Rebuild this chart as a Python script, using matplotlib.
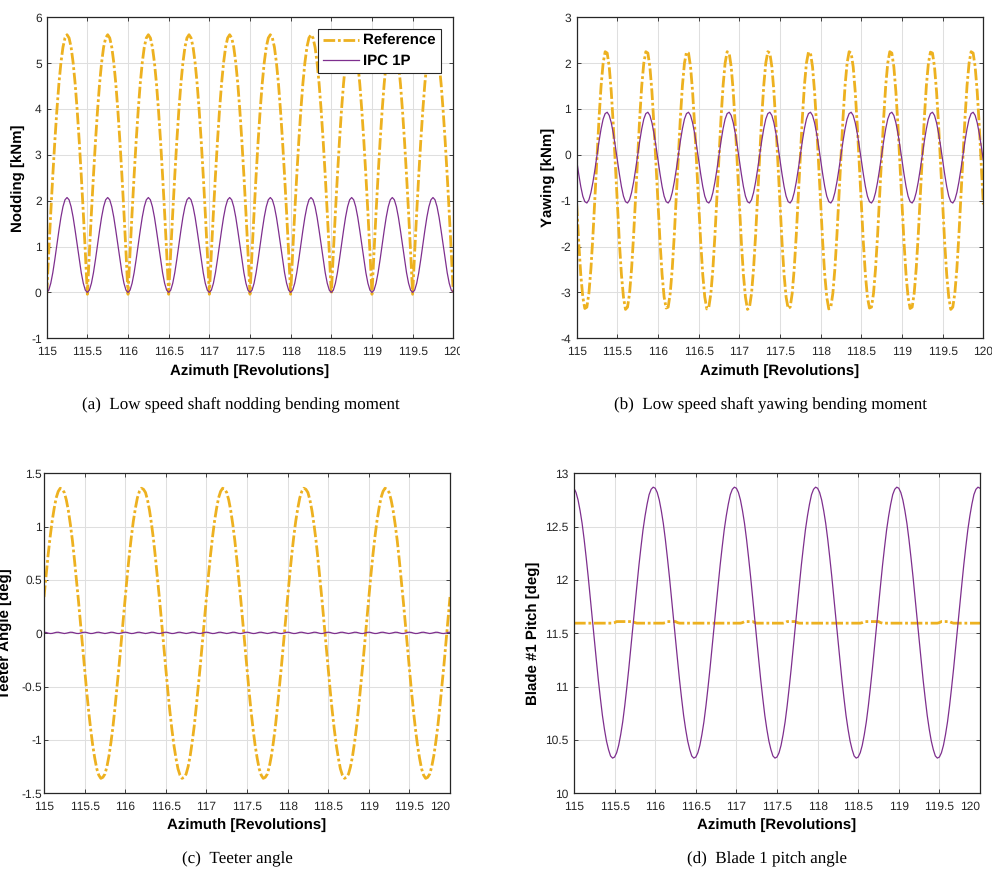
import numpy as np
import matplotlib
matplotlib.use("Agg")
import matplotlib.pyplot as plt
from matplotlib.transforms import Bbox, TransformedBbox

plt.rcParams["font.family"] = ["Liberation Sans", "DejaVu Sans"]
plt.rcParams["axes.unicode_minus"] = False
plt.rcParams["text.hinting"] = "no_hinting"
plt.rcParams["text.hinting_factor"] = 1

# Rotor azimuth, sampled every 0.025 revolution from 115 to 120
azimuth = np.linspace(115.0, 120.0, 201)

# (a) Low speed shaft nodding moment [kNm]
nodding_ref = [
    -0.04, 0.88, 1.74, 2.55, 3.30, 3.97, 4.55, 5.01, 5.35, 5.55, 5.62, 5.55, 5.35, 5.01, 4.55, 3.97, 3.30, 2.55, 1.74, 0.88,
    -0.04, 0.88, 1.74, 2.55, 3.30, 3.97, 4.55, 5.01, 5.35, 5.55, 5.62, 5.55, 5.35, 5.01, 4.55, 3.97, 3.30, 2.55, 1.74, 0.88,
    -0.04, 0.88, 1.74, 2.55, 3.30, 3.97, 4.55, 5.01, 5.35, 5.55, 5.62, 5.55, 5.35, 5.01, 4.55, 3.97, 3.30, 2.55, 1.74, 0.88,
    -0.04, 0.88, 1.74, 2.55, 3.30, 3.97, 4.55, 5.01, 5.35, 5.55, 5.62, 5.55, 5.35, 5.01, 4.55, 3.97, 3.30, 2.55, 1.74, 0.88,
    -0.04, 0.88, 1.74, 2.55, 3.30, 3.97, 4.55, 5.01, 5.35, 5.55, 5.62, 5.55, 5.35, 5.01, 4.55, 3.97, 3.30, 2.55, 1.74, 0.88,
    -0.04, 0.88, 1.74, 2.55, 3.30, 3.97, 4.55, 5.01, 5.35, 5.55, 5.62, 5.55, 5.35, 5.01, 4.55, 3.97, 3.30, 2.55, 1.74, 0.88,
    -0.04, 0.88, 1.74, 2.55, 3.30, 3.97, 4.55, 5.01, 5.35, 5.55, 5.62, 5.55, 5.35, 5.01, 4.55, 3.97, 3.30, 2.55, 1.74, 0.88,
    -0.04, 0.88, 1.74, 2.55, 3.30, 3.97, 4.55, 5.01, 5.35, 5.55, 5.62, 5.55, 5.35, 5.01, 4.55, 3.97, 3.30, 2.55, 1.74, 0.88,
    -0.04, 0.88, 1.74, 2.55, 3.30, 3.97, 4.55, 5.01, 5.35, 5.55, 5.62, 5.55, 5.35, 5.01, 4.55, 3.97, 3.30, 2.55, 1.74, 0.88,
    -0.04, 0.88, 1.74, 2.55, 3.30, 3.97, 4.55, 5.01, 5.35, 5.55, 5.62, 5.55, 5.35, 5.01, 4.55, 3.97, 3.30, 2.55, 1.74, 0.88,
    -0.04,
]
nodding_ipc = [
    0.00, 0.05, 0.20, 0.43, 0.72, 1.04, 1.35, 1.64, 1.87, 2.02, 2.07, 2.02, 1.87, 1.64, 1.35, 1.04, 0.72, 0.43, 0.20, 0.05,
    0.00, 0.05, 0.20, 0.43, 0.72, 1.04, 1.35, 1.64, 1.87, 2.02, 2.07, 2.02, 1.87, 1.64, 1.35, 1.04, 0.72, 0.43, 0.20, 0.05,
    0.00, 0.05, 0.20, 0.43, 0.72, 1.04, 1.35, 1.64, 1.87, 2.02, 2.07, 2.02, 1.87, 1.64, 1.35, 1.04, 0.72, 0.43, 0.20, 0.05,
    0.00, 0.05, 0.20, 0.43, 0.72, 1.04, 1.35, 1.64, 1.87, 2.02, 2.07, 2.02, 1.87, 1.64, 1.35, 1.04, 0.72, 0.43, 0.20, 0.05,
    0.00, 0.05, 0.20, 0.43, 0.72, 1.04, 1.35, 1.64, 1.87, 2.02, 2.07, 2.02, 1.87, 1.64, 1.35, 1.04, 0.72, 0.43, 0.20, 0.05,
    0.00, 0.05, 0.20, 0.43, 0.72, 1.04, 1.35, 1.64, 1.87, 2.02, 2.07, 2.02, 1.87, 1.64, 1.35, 1.04, 0.72, 0.43, 0.20, 0.05,
    0.00, 0.05, 0.20, 0.43, 0.72, 1.04, 1.35, 1.64, 1.87, 2.02, 2.07, 2.02, 1.87, 1.64, 1.35, 1.04, 0.72, 0.43, 0.20, 0.05,
    0.00, 0.05, 0.20, 0.43, 0.72, 1.04, 1.35, 1.64, 1.87, 2.02, 2.07, 2.02, 1.87, 1.64, 1.35, 1.04, 0.72, 0.43, 0.20, 0.05,
    0.00, 0.05, 0.20, 0.43, 0.72, 1.04, 1.35, 1.64, 1.87, 2.02, 2.07, 2.02, 1.87, 1.64, 1.35, 1.04, 0.72, 0.43, 0.20, 0.05,
    0.00, 0.05, 0.20, 0.43, 0.72, 1.04, 1.35, 1.64, 1.87, 2.02, 2.07, 2.02, 1.87, 1.64, 1.35, 1.04, 0.72, 0.43, 0.20, 0.05,
    0.00,
]

# (b) Low speed shaft yawing moment [kNm]
yawing_ref = [
    -1.08, -1.91, -2.61, -3.10, -3.35, -3.32, -3.02, -2.48, -1.75, -0.90, -0.02, 0.81, 1.51, 2.00, 2.25, 2.22, 1.92, 1.38, 0.65, -0.20,
    -1.08, -1.91, -2.61, -3.10, -3.37, -3.32, -3.02, -2.48, -1.75, -0.90, -0.02, 0.81, 1.51, 2.00, 2.25, 2.22, 1.92, 1.38, 0.65, -0.20,
    -1.08, -1.91, -2.61, -3.10, -3.34, -3.32, -3.02, -2.48, -1.75, -0.90, -0.02, 0.81, 1.51, 2.00, 2.24, 2.22, 1.92, 1.38, 0.65, -0.20,
    -1.08, -1.91, -2.61, -3.10, -3.36, -3.32, -3.02, -2.48, -1.75, -0.90, -0.02, 0.81, 1.51, 2.00, 2.25, 2.22, 1.92, 1.38, 0.65, -0.20,
    -1.08, -1.91, -2.61, -3.10, -3.37, -3.32, -3.02, -2.48, -1.75, -0.90, -0.02, 0.81, 1.51, 2.00, 2.25, 2.22, 1.92, 1.38, 0.65, -0.20,
    -1.08, -1.91, -2.61, -3.10, -3.35, -3.32, -3.02, -2.48, -1.75, -0.90, -0.02, 0.81, 1.51, 2.00, 2.24, 2.22, 1.92, 1.38, 0.65, -0.20,
    -1.08, -1.91, -2.61, -3.10, -3.36, -3.32, -3.02, -2.48, -1.75, -0.90, -0.02, 0.81, 1.51, 2.00, 2.25, 2.22, 1.92, 1.38, 0.65, -0.20,
    -1.08, -1.91, -2.61, -3.10, -3.34, -3.32, -3.02, -2.48, -1.75, -0.90, -0.02, 0.81, 1.51, 2.00, 2.25, 2.22, 1.92, 1.38, 0.65, -0.20,
    -1.08, -1.91, -2.61, -3.10, -3.35, -3.32, -3.02, -2.48, -1.75, -0.90, -0.02, 0.81, 1.51, 2.00, 2.24, 2.22, 1.92, 1.38, 0.65, -0.20,
    -1.08, -1.91, -2.61, -3.10, -3.37, -3.32, -3.02, -2.48, -1.75, -0.90, -0.02, 0.81, 1.51, 2.00, 2.25, 2.22, 1.92, 1.38, 0.65, -0.20,
    -1.08,
]
yawing_ipc = [
    -0.12, -0.42, -0.69, -0.90, -1.02, -1.05, -0.98, -0.82, -0.59, -0.31, 0.00, 0.30, 0.57, 0.78, 0.90, 0.93, 0.86, 0.70, 0.47, 0.19,
    -0.12, -0.42, -0.69, -0.90, -1.02, -1.05, -0.98, -0.82, -0.59, -0.31, 0.00, 0.30, 0.57, 0.78, 0.90, 0.93, 0.86, 0.70, 0.47, 0.19,
    -0.12, -0.42, -0.69, -0.90, -1.02, -1.05, -0.98, -0.82, -0.59, -0.31, 0.00, 0.30, 0.57, 0.78, 0.90, 0.93, 0.86, 0.70, 0.47, 0.19,
    -0.12, -0.42, -0.69, -0.90, -1.02, -1.05, -0.98, -0.82, -0.59, -0.31, 0.00, 0.30, 0.57, 0.78, 0.90, 0.93, 0.86, 0.70, 0.47, 0.19,
    -0.12, -0.42, -0.69, -0.90, -1.02, -1.05, -0.98, -0.82, -0.59, -0.31, 0.00, 0.30, 0.57, 0.78, 0.90, 0.93, 0.86, 0.70, 0.47, 0.19,
    -0.12, -0.42, -0.69, -0.90, -1.02, -1.05, -0.98, -0.82, -0.59, -0.31, 0.00, 0.30, 0.57, 0.78, 0.90, 0.93, 0.86, 0.70, 0.47, 0.19,
    -0.12, -0.42, -0.69, -0.90, -1.02, -1.05, -0.98, -0.82, -0.59, -0.31, 0.00, 0.30, 0.57, 0.78, 0.90, 0.93, 0.86, 0.70, 0.47, 0.19,
    -0.12, -0.42, -0.69, -0.90, -1.02, -1.05, -0.98, -0.82, -0.59, -0.31, 0.00, 0.30, 0.57, 0.78, 0.90, 0.93, 0.86, 0.70, 0.47, 0.19,
    -0.12, -0.42, -0.69, -0.90, -1.02, -1.05, -0.98, -0.82, -0.59, -0.31, 0.00, 0.30, 0.57, 0.78, 0.90, 0.93, 0.86, 0.70, 0.47, 0.19,
    -0.12, -0.42, -0.69, -0.90, -1.02, -1.05, -0.98, -0.82, -0.59, -0.31, 0.00, 0.30, 0.57, 0.78, 0.90, 0.93, 0.86, 0.70, 0.47, 0.19,
    -0.12,
]

# (c) Teeter angle [deg]
teeter_ref = [
    0.34, 0.54, 0.73, 0.90, 1.05, 1.17, 1.27, 1.33, 1.36, 1.35, 1.32, 1.25, 1.15, 1.02, 0.87, 0.69, 0.50, 0.30, 0.09, -0.13,
    -0.34, -0.54, -0.73, -0.90, -1.05, -1.17, -1.27, -1.33, -1.36, -1.35, -1.32, -1.25, -1.15, -1.02, -0.87, -0.69, -0.50, -0.30, -0.09, 0.13,
    0.34, 0.54, 0.73, 0.90, 1.05, 1.17, 1.27, 1.33, 1.36, 1.35, 1.32, 1.25, 1.15, 1.02, 0.87, 0.69, 0.50, 0.30, 0.09, -0.13,
    -0.34, -0.54, -0.73, -0.90, -1.05, -1.17, -1.27, -1.33, -1.36, -1.35, -1.32, -1.25, -1.15, -1.02, -0.87, -0.69, -0.50, -0.30, -0.09, 0.13,
    0.34, 0.54, 0.73, 0.90, 1.05, 1.17, 1.27, 1.33, 1.36, 1.35, 1.32, 1.25, 1.15, 1.02, 0.87, 0.69, 0.50, 0.30, 0.09, -0.13,
    -0.34, -0.54, -0.73, -0.90, -1.05, -1.17, -1.27, -1.33, -1.36, -1.35, -1.32, -1.25, -1.15, -1.02, -0.87, -0.69, -0.50, -0.30, -0.09, 0.13,
    0.34, 0.54, 0.73, 0.90, 1.05, 1.17, 1.27, 1.33, 1.36, 1.35, 1.32, 1.25, 1.15, 1.02, 0.87, 0.69, 0.50, 0.30, 0.09, -0.13,
    -0.34, -0.54, -0.73, -0.90, -1.05, -1.17, -1.27, -1.33, -1.36, -1.35, -1.32, -1.25, -1.15, -1.02, -0.87, -0.69, -0.50, -0.30, -0.09, 0.13,
    0.34, 0.54, 0.73, 0.90, 1.05, 1.17, 1.27, 1.33, 1.36, 1.35, 1.32, 1.25, 1.15, 1.02, 0.87, 0.69, 0.50, 0.30, 0.09, -0.13,
    -0.34, -0.54, -0.73, -0.90, -1.05, -1.17, -1.27, -1.33, -1.36, -1.35, -1.32, -1.25, -1.15, -1.02, -0.87, -0.69, -0.50, -0.30, -0.09, 0.13,
    0.34,
]
teeter_ipc = [
    0.010, 0.008, 0.002, -0.002, -0.001, 0.004, 0.009, 0.010, 0.006, 0.001, -0.002, 0.001, 0.006, 0.010, 0.009, 0.004, -0.001, -0.002, 0.002, 0.008,
    0.010, 0.008, 0.002, -0.002, -0.001, 0.004, 0.009, 0.010, 0.006, 0.001, -0.002, 0.001, 0.006, 0.010, 0.009, 0.004, -0.001, -0.002, 0.002, 0.008,
    0.010, 0.008, 0.002, -0.002, -0.001, 0.004, 0.009, 0.010, 0.006, 0.001, -0.002, 0.001, 0.006, 0.010, 0.009, 0.004, -0.001, -0.002, 0.002, 0.008,
    0.010, 0.008, 0.002, -0.002, -0.001, 0.004, 0.009, 0.010, 0.006, 0.001, -0.002, 0.001, 0.006, 0.010, 0.009, 0.004, -0.001, -0.002, 0.002, 0.008,
    0.010, 0.008, 0.002, -0.002, -0.001, 0.004, 0.009, 0.010, 0.006, 0.001, -0.002, 0.001, 0.006, 0.010, 0.009, 0.004, -0.001, -0.002, 0.002, 0.008,
    0.010, 0.008, 0.002, -0.002, -0.001, 0.004, 0.009, 0.010, 0.006, 0.001, -0.002, 0.001, 0.006, 0.010, 0.009, 0.004, -0.001, -0.002, 0.002, 0.008,
    0.010, 0.008, 0.002, -0.002, -0.001, 0.004, 0.009, 0.010, 0.006, 0.001, -0.002, 0.001, 0.006, 0.010, 0.009, 0.004, -0.001, -0.002, 0.002, 0.008,
    0.010, 0.008, 0.002, -0.002, -0.001, 0.004, 0.009, 0.010, 0.006, 0.001, -0.002, 0.001, 0.006, 0.010, 0.009, 0.004, -0.001, -0.002, 0.002, 0.008,
    0.010, 0.008, 0.002, -0.002, -0.001, 0.004, 0.009, 0.010, 0.006, 0.001, -0.002, 0.001, 0.006, 0.010, 0.009, 0.004, -0.001, -0.002, 0.002, 0.008,
    0.010, 0.008, 0.002, -0.002, -0.001, 0.004, 0.009, 0.010, 0.006, 0.001, -0.002, 0.001, 0.006, 0.010, 0.009, 0.004, -0.001, -0.002, 0.002, 0.008,
    0.010,
]

# (d) Blade 1 pitch angle [deg]
pitch_ref = [
    11.595, 11.595, 11.595, 11.595, 11.595, 11.595, 11.595, 11.595, 11.595, 11.595, 11.595, 11.595, 11.595, 11.595, 11.595, 11.595, 11.595, 11.595, 11.595, 11.595,
    11.600, 11.610, 11.610, 11.610, 11.610, 11.610, 11.610, 11.610, 11.610, 11.610, 11.600, 11.595, 11.595, 11.595, 11.595, 11.595, 11.595, 11.595, 11.595, 11.595,
    11.595, 11.595, 11.595, 11.595, 11.595, 11.600, 11.610, 11.610, 11.610, 11.610, 11.610, 11.600, 11.595, 11.595, 11.595, 11.595, 11.595, 11.595, 11.595, 11.595,
    11.595, 11.595, 11.595, 11.595, 11.595, 11.595, 11.595, 11.595, 11.595, 11.595, 11.595, 11.595, 11.595, 11.595, 11.595, 11.595, 11.595, 11.595, 11.595, 11.595,
    11.595, 11.595, 11.595, 11.600, 11.610, 11.610, 11.610, 11.610, 11.610, 11.600, 11.595, 11.595, 11.595, 11.595, 11.595, 11.595, 11.595, 11.595, 11.595, 11.595,
    11.595, 11.595, 11.595, 11.595, 11.600, 11.610, 11.610, 11.610, 11.610, 11.610, 11.600, 11.595, 11.595, 11.595, 11.595, 11.595, 11.595, 11.595, 11.595, 11.595,
    11.595, 11.595, 11.595, 11.595, 11.595, 11.595, 11.595, 11.595, 11.595, 11.595, 11.595, 11.595, 11.595, 11.595, 11.595, 11.595, 11.595, 11.595, 11.595, 11.595,
    11.595, 11.595, 11.600, 11.610, 11.610, 11.610, 11.610, 11.610, 11.610, 11.610, 11.610, 11.600, 11.595, 11.595, 11.595, 11.595, 11.595, 11.595, 11.595, 11.595,
    11.595, 11.595, 11.595, 11.595, 11.595, 11.595, 11.595, 11.595, 11.595, 11.595, 11.595, 11.595, 11.595, 11.595, 11.595, 11.595, 11.595, 11.595, 11.595, 11.595,
    11.600, 11.610, 11.610, 11.610, 11.610, 11.610, 11.600, 11.595, 11.595, 11.595, 11.595, 11.595, 11.595, 11.595, 11.595, 11.595, 11.595, 11.595, 11.595, 11.595,
    11.595,
]
pitch_ipc = [
    12.86, 12.82, 12.75, 12.65, 12.53, 12.38, 12.21, 12.03, 11.84, 11.64, 11.44, 11.25, 11.06, 10.89, 10.73, 10.60, 10.49, 10.41, 10.35, 10.33,
    10.34, 10.38, 10.45, 10.55, 10.67, 10.82, 10.99, 11.17, 11.36, 11.56, 11.76, 11.95, 12.14, 12.31, 12.47, 12.60, 12.71, 12.80, 12.85, 12.87,
    12.86, 12.82, 12.75, 12.65, 12.53, 12.38, 12.21, 12.03, 11.84, 11.64, 11.44, 11.25, 11.06, 10.89, 10.73, 10.60, 10.49, 10.41, 10.35, 10.33,
    10.34, 10.38, 10.45, 10.55, 10.67, 10.82, 10.99, 11.17, 11.36, 11.56, 11.76, 11.95, 12.14, 12.31, 12.47, 12.60, 12.71, 12.80, 12.85, 12.87,
    12.86, 12.82, 12.75, 12.65, 12.53, 12.38, 12.21, 12.03, 11.84, 11.64, 11.44, 11.25, 11.06, 10.89, 10.73, 10.60, 10.49, 10.41, 10.35, 10.33,
    10.34, 10.38, 10.45, 10.55, 10.67, 10.82, 10.99, 11.17, 11.36, 11.56, 11.76, 11.95, 12.14, 12.31, 12.47, 12.60, 12.71, 12.80, 12.85, 12.87,
    12.86, 12.82, 12.75, 12.65, 12.53, 12.38, 12.21, 12.03, 11.84, 11.64, 11.44, 11.25, 11.06, 10.89, 10.73, 10.60, 10.49, 10.41, 10.35, 10.33,
    10.34, 10.38, 10.45, 10.55, 10.67, 10.82, 10.99, 11.17, 11.36, 11.56, 11.76, 11.95, 12.14, 12.31, 12.47, 12.60, 12.71, 12.80, 12.85, 12.87,
    12.86, 12.82, 12.75, 12.65, 12.53, 12.38, 12.21, 12.03, 11.84, 11.64, 11.44, 11.25, 11.06, 10.89, 10.73, 10.60, 10.49, 10.41, 10.35, 10.33,
    10.34, 10.38, 10.45, 10.55, 10.67, 10.82, 10.99, 11.17, 11.36, 11.56, 11.76, 11.95, 12.14, 12.31, 12.47, 12.60, 12.71, 12.80, 12.85, 12.87,
    12.86,
]

# Axis ticks and texts
x_ticks = [115, 115.5, 116, 116.5, 117, 117.5, 118, 118.5, 119, 119.5, 120]
x_tick_labels = ["115", "115.5", "116", "116.5", "117", "117.5", "118", "118.5", "119", "119.5", "120"]
yticks_a = [-1, 0, 1, 2, 3, 4, 5, 6]
yticks_b = [-4, -3, -2, -1, 0, 1, 2, 3]
yticks_c = [-1.5, -1, -0.5, 0, 0.5, 1, 1.5]
yticklabels_c = ["-1.5", "-1", "-0.5", "0", "0.5", "1", "1.5"]
yticks_d = [10, 10.5, 11, 11.5, 12, 12.5, 13]
yticklabels_d = ["10", "10.5", "11", "11.5", "12", "12.5", "13"]
series_names = ["Reference", "IPC 1P"]
x_label = "Azimuth [Revolutions]"
y_labels = ["Nodding [kNm]", "Yawing [kNm]", "Teeter Angle [deg]", "Blade #1 Pitch [deg]"]
captions = [
    "(a)  Low speed shaft nodding bending moment",
    "(b)  Low speed shaft yawing bending moment",
    "(c)  Teeter angle",
    "(d)  Blade 1 pitch angle",
]

REF_COLOR = "#EDB120"
IPC_COLOR = "#7E2F8E"
INK = "#262626"

W, H = 992, 869
fig = plt.figure(figsize=(W / 100, H / 100), dpi=100)


def px_axes(left, right, top, bottom):
    return fig.add_axes([left / W, 1 - bottom / H, (right - left) / W, (bottom - top) / H])


def fx(x):
    return x / W


def fy(y):
    return 1 - y / H


def draw_panel(ax, ref, ipc, ylim, yticks, yticklabels, ypad):
    ax.plot(azimuth, ref, color=REF_COLOR, lw=2.0, linestyle=(0, (4.2, 1.0, 1.0, 1.0)),
            dash_capstyle="butt", label=series_names[0])
    ax.plot(azimuth, ipc, color=IPC_COLOR, lw=0.9, label=series_names[1])
    ax.set_xlim(115, 120)
    ax.set_ylim(*ylim)
    ax.set_xticks(x_ticks)
    ax.set_xticklabels(x_tick_labels)
    ax.set_yticks(yticks)
    ax.set_yticklabels(yticklabels)
    ax.grid(True, color="#dfdfdf", lw=0.75)
    ax.set_axisbelow(True)
    ax.tick_params(direction="in", length=3.2, width=0.6, top=True, right=True,
                   colors=INK, labelsize=8.8)
    ax.tick_params(axis="x", pad=5.5)
    ax.tick_params(axis="y", pad=ypad)
    for s in ax.spines.values():
        s.set_color(INK)
        s.set_linewidth(0.9)


ax_a = px_axes(46.7, 453.3, 17.3, 338.3)
ax_b = px_axes(576.7, 983.3, 17.3, 338.3)
ax_c = px_axes(44.0, 450.0, 473.3, 793.3)
ax_d = px_axes(574.0, 980.0, 473.3, 793.3)

draw_panel(ax_a, nodding_ref, nodding_ipc, (-1, 6), yticks_a, [str(v) for v in yticks_a], 3.6)
draw_panel(ax_b, yawing_ref, yawing_ipc, (-4, 3), yticks_b, [str(v) for v in yticks_b], 4.0)
draw_panel(ax_c, teeter_ref, teeter_ipc, (-1.5, 1.5), yticks_c, yticklabels_c, 1.5)
draw_panel(ax_d, pitch_ref, pitch_ipc, (10, 13), yticks_d, yticklabels_d, 4.0)

# The last x tick label of panel (a) is cut at the edge of its sub-figure
clip = TransformedBbox(Bbox.from_extents(0, 0, fx(460), 1), fig.transFigure)
for t in ax_a.xaxis.get_major_ticks():
    t.label1.set_clip_box(clip)
    t.label1.set_clip_on(True)

# Panels (c) and (d) keep their last x tick label inside the axes
for ax in (ax_c, ax_d):
    ax.xaxis.get_major_ticks()[-1].label1.set_horizontalalignment("right")

leg = ax_a.legend(loc="upper right", bbox_to_anchor=(fx(440.7), fy(29.3)),
                  bbox_transform=fig.transFigure, borderaxespad=0,
                  prop={"weight": "bold", "size": 10.5}, handlelength=2.5,
                  handletextpad=0.25, labelspacing=0.4, borderpad=0.35,
                  fancybox=False, framealpha=1, edgecolor=INK)
leg.get_frame().set_linewidth(0.8)

label_kw = dict(fontsize=10.6, fontweight="bold", color="black")
# x labels
for ax, base in ((ax_a, 375.3), (ax_b, 375.3), (ax_c, 829.3), (ax_d, 829.3)):
    b = ax.get_position()
    fig.text((b.x0 + b.x1) / 2, fy(base), x_label, ha="center", va="baseline", **label_kw)
# y labels
for (xc, yc), text in zip(((18.8, 177.8), (548.8, 177.8), (6.3, 633.3), (533.7, 633.3)), y_labels):
    fig.text(fx(xc), fy(yc), text, rotation=90, ha="center", va="center", **label_kw)
# captions
cap_kw = dict(fontsize=12.3, family=["Liberation Serif", "DejaVu Serif"], color="black",
              ha="center", va="baseline")
for (xc, base), text in zip(((241, 409), (770, 409), (237.5, 863.5), (767, 863.5)), captions):
    fig.text(fx(xc), fy(base), text, **cap_kw)

fig.savefig("out.png", dpi=100)
